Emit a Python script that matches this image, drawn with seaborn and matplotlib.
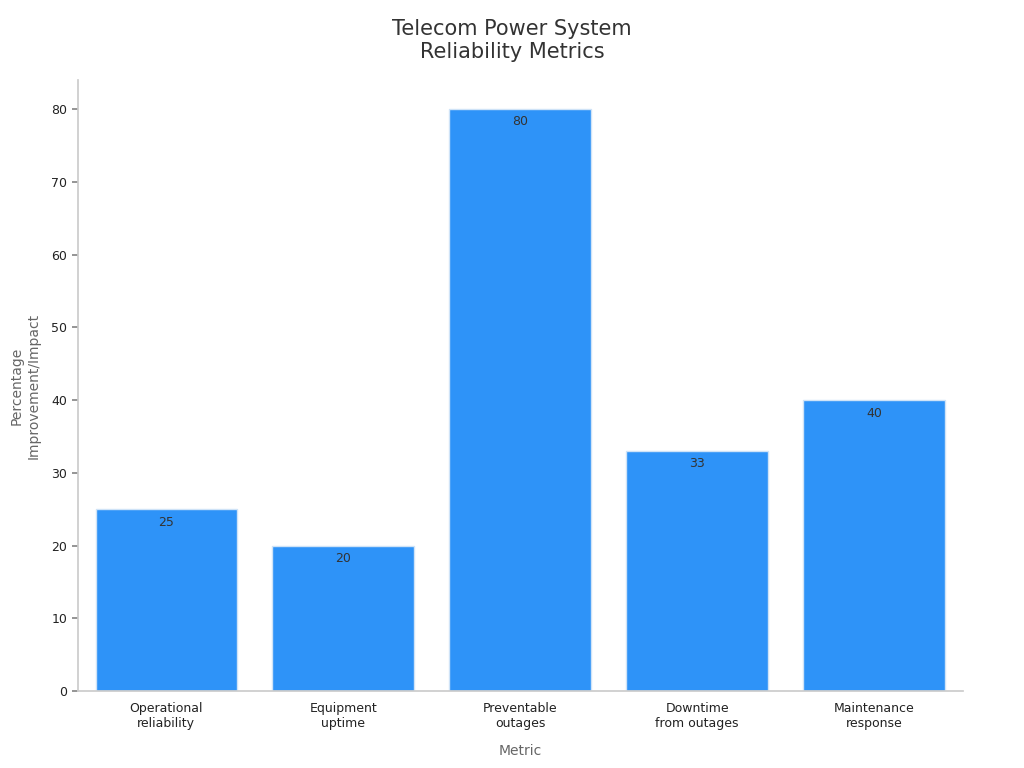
import matplotlib
matplotlib.use("Agg")
import matplotlib.pyplot as plt
import seaborn as sns
import pandas as pd

categories = ["Operational\nreliability", "Equipment\nuptime", "Preventable\noutages", "Downtime\nfrom outages", "Maintenance\nresponse"]
values = [25, 20, 80, 33, 40]

sns.set_theme(style="white")
plt.rcParams['font.family'] = ['DejaVu Sans']
df = pd.DataFrame({"Metric": categories, "Value": values})

fig = plt.figure(figsize=(10.24, 7.68), dpi=100)
ax = fig.add_axes([0.076, 0.100, 0.864, 0.796])
sns.barplot(data=df, x="Metric", y="Value", color="#2E93F8", saturation=1, width=0.8,
            edgecolor="#cfe3f7", linewidth=1, ax=ax)
for c in ax.containers:
    ax.bar_label(c, labels=[str(v) for v in values], padding=-14, fontsize=9, color="#333333")
ax.set_xlim(-0.5, 4.5)
ax.set_ylim(0, 84)
ax.set_yticks(range(0, 81, 10))
ax.tick_params(axis="both", labelsize=9, colors="#222222", length=4)
ax.tick_params(axis="y", left=True, color="#888888")
ax.tick_params(axis="x", bottom=False)
for s in ["top", "right"]:
    ax.spines[s].set_visible(False)
for s in ["left", "bottom"]:
    ax.spines[s].set_color("#cccccc")
ax.set_xlabel("Metric", fontsize=10, color="#666666", labelpad=10)
ax.set_ylabel("Percentage\nImprovement/Impact", fontsize=10, color="#666666", labelpad=8)
fig.suptitle("Telecom Power System\nReliability Metrics", fontsize=15, color="#333333", y=0.975)
fig.savefig("out.png", dpi=100)
